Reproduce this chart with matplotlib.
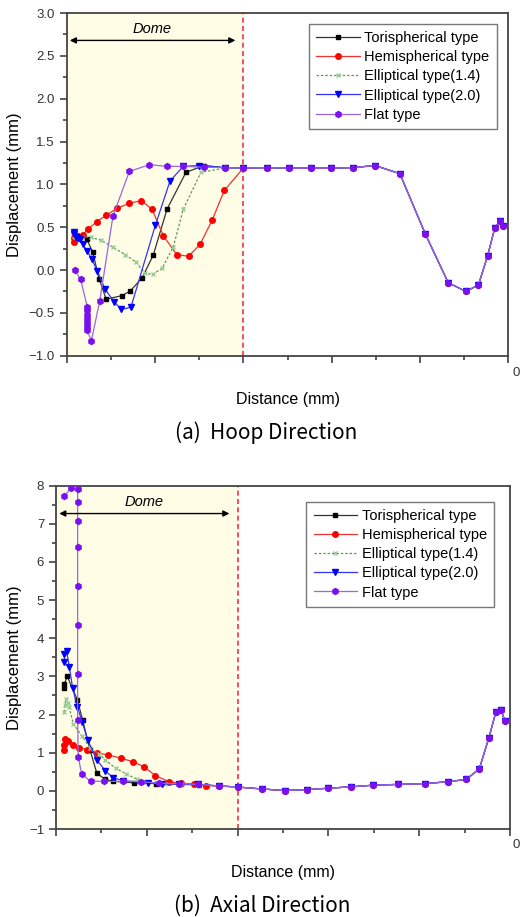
import numpy as np
import matplotlib
matplotlib.use("Agg")
import matplotlib.pyplot as plt
from matplotlib.ticker import MultipleLocator

plt.rcParams['font.family'] = ['Liberation Sans', 'DejaVu Sans']

# ---------------- data ----------------
labels = ["Torispherical type", "Hemispherical type", "Elliptical type(1.4)",
          "Elliptical type(2.0)", "Flat type"]

# common part along the cylinder (x >= 200), all heads coincide here
tail_x = [200, 226.6, 251.7, 276.6, 299.3, 324.4, 349, 377.2, 406.2, 432,
          451.9, 466.2, 476.6, 484.6, 490.2, 494.5]
tail_hoop = [1.19, 1.195, 1.19, 1.19, 1.19, 1.195, 1.22, 1.125, 0.417, -0.148,
             -0.25, -0.175, 0.167, 0.487, 0.572, 0.514]
tail_axial = [0.10, 0.05, 0.008, 0.034, 0.068, 0.105, 0.148, 0.17, 0.19, 0.24,
              0.30, 0.58, 1.38, 2.08, 2.11, 1.83]

# (a) hoop direction, dome part
tori_hx = [8, 10, 14, 22.5, 29.4, 36.6, 44.7, 62.2, 72, 85.5, 98, 113.6, 135, 155.5, 179]
tori_hy = [0.42, 0.38, 0.37, 0.365, 0.21, -0.10, -0.34, -0.30, -0.245, -0.09, 0.175,
           0.71, 1.14, 1.22, 1.195]
hemi_hx = [8, 8.5, 13, 18, 24, 34, 45, 57, 71, 84.5, 96.6, 109.4, 124.6, 138, 151,
           164.6, 178.5]
hemi_hy = [0.33, 0.37, 0.40, 0.41, 0.475, 0.565, 0.64, 0.72, 0.78, 0.81, 0.71, 0.40,
           0.18, 0.16, 0.30, 0.58, 0.93]
ell14_hx = [8, 9.5, 12, 17, 27.9, 38.5, 52.4, 66.4, 78.5, 89, 97.4, 108, 120.7, 132,
            152, 179]
ell14_hy = [0.40, 0.38, 0.38, 0.39, 0.38, 0.35, 0.265, 0.18, 0.09, -0.04, -0.05, 0.02,
            0.27, 0.71, 1.14, 1.19]
ell20_hx = [8, 8.5, 10.5, 13, 15, 18, 23.3, 28.5, 34.6, 43.3, 53.5, 62, 72.7, 100.3,
            117, 132, 150, 179]
ell20_hy = [0.44, 0.42, 0.39, 0.37, 0.36, 0.30, 0.22, 0.125, -0.01, -0.22, -0.37,
            -0.46, -0.435, 0.52, 1.04, 1.21, 1.22, 1.195]
flat_hx = [9, 15.8, 23.3, 23.3, 23.3, 23.3, 23.3, 23.3, 23.3, 27.9, 37.4, 52.4, 70.9,
           93.5, 113, 132, 156, 179]
flat_hy = [0.0, -0.11, -0.43, -0.47, -0.52, -0.57, -0.62, -0.67, -0.70, -0.83, -0.36,
           0.63, 1.15, 1.23, 1.21, 1.21, 1.20, 1.195]

# (b) axial direction, dome part
tori_ax = [9.2, 9.2, 12.4, 23.4, 29.3, 37.4, 45, 54.2, 63, 86, 110, 138, 157, 179]
tori_ay = [2.69, 2.81, 3.0, 2.39, 1.86, 1.08, 0.46, 0.30, 0.25, 0.21, 0.19, 0.17,
           0.16, 0.13]
hemi_ax = [9.2, 9.2, 10.3, 13.5, 18.3, 25.3, 34.4, 44.7, 57.5, 71.1, 85, 97, 109.5,
           124.5, 138, 151.6, 164.8, 179]
hemi_ay = [1.06, 1.21, 1.36, 1.32, 1.21, 1.13, 1.08, 1.0, 0.94, 0.86, 0.76, 0.63, 0.40,
           0.24, 0.20, 0.17, 0.14, 0.13]
ell14_ax = [9.2, 10, 11, 13.5, 14.6, 19, 28.2, 37.4, 47.6, 54.2, 66, 76.9, 88.7, 100.7,
            120, 138, 157, 179]
ell14_ay = [2.06, 2.25, 2.41, 2.30, 2.19, 1.76, 1.45, 1.13, 0.97, 0.81, 0.59, 0.45,
            0.31, 0.23, 0.19, 0.17, 0.16, 0.13]
ell20_ax = [9.2, 9.2, 11.7, 14.6, 18.3, 23.4, 28.9, 34.8, 44.7, 54.2, 63, 73.3, 101.5,
            117, 136, 156, 179]
ell20_ay = [3.38, 3.6, 3.66, 3.26, 2.70, 2.21, 1.80, 1.34, 0.82, 0.53, 0.34, 0.27, 0.21,
            0.18, 0.18, 0.17, 0.13]
flat_ax = [9.2, 16.1, 23.8, 23.8, 23.8, 23.8, 23.8, 23.8, 23.8, 23.8, 24.5, 28.2, 38.1,
           53.1, 73.3, 94.1, 113.6, 136, 156, 179]
flat_ay = [7.73, 7.93, 7.91, 7.56, 7.08, 6.38, 5.37, 4.34, 3.06, 1.87, 0.90, 0.44, 0.25,
           0.25, 0.25, 0.24, 0.20, 0.19, 0.17, 0.13]

dome_end = 200

# styles: line colour, marker, marker colour, marker size
styles = [
    dict(color='#333333', marker='s', mfc='#000000', mec='#000000', ms=3.5),
    dict(color='#ee3333', marker='o', mfc='#ff0000', mec='#ff0000', ms=4),
    dict(color='#5a9a5a', marker='x', mfc='#99cc99', mec='#99cc99', ms=3, ls=(0, (2, 1.5))),
    dict(color='#3333ff', marker='v', mfc='#0000ff', mec='#0000ff', ms=4.5),
    dict(color='#9a66e6', marker='h', mfc='#7a10f0', mec='#7a10f0', ms=4.3),
]


def draw_panel(ax, series, tail_y, ylim, ymajor, yminor, ytick_fmt, dome_y, dome_text_y,
               leg_anchor):
    ax.set_facecolor('white')
    ax.axvspan(0, dome_end, color='#fffde6', zorder=0)
    ax.axvline(dome_end, color='#ee3355', ls=(0, (3, 2)), lw=1.2, zorder=1)
    for (xs, ys), lab, st in zip(series, labels, styles):
        st = dict(st)
        ls = st.pop('ls', '-')
        ax.plot(list(xs) + tail_x, list(ys) + tail_y, ls=ls, lw=0.9, label=lab, zorder=3, **st)
    ax.annotate('', xy=(3.5, dome_y), xytext=(191, dome_y),
                arrowprops=dict(arrowstyle='<|-|>', color='black', lw=1.0,
                                mutation_scale=9, shrinkA=0, shrinkB=0))
    ax.text(97, dome_text_y, 'Dome', style='italic', fontsize=10.5, ha='center', va='center')
    ax.set_xlim(0, 500)
    ax.set_ylim(*ylim)
    ax.xaxis.set_major_locator(MultipleLocator(100))
    ax.xaxis.set_minor_locator(MultipleLocator(50))
    ax.yaxis.set_major_locator(MultipleLocator(ymajor))
    ax.yaxis.set_minor_locator(MultipleLocator(yminor))
    ax.yaxis.set_major_formatter(ytick_fmt)
    ax.tick_params(which='both', direction='out', top=False, right=False, labelbottom=False,
                   labelsize=9.5, colors='#333333', width=1.1)
    ax.tick_params(which='major', length=5)
    ax.tick_params(which='minor', length=3)
    for sp in ax.spines.values():
        sp.set_color('#444444')
        sp.set_linewidth(1.3)
    ax.set_ylabel('Displacement (mm)', fontsize=12, labelpad=5)
    leg = ax.legend(loc='upper right', bbox_to_anchor=leg_anchor, fontsize=10.5, frameon=True,
                    fancybox=False, edgecolor='#555555', handlelength=3, numpoints=1,
                    labelspacing=0.35, borderpad=0.5, handletextpad=0.3, borderaxespad=0)
    leg.get_frame().set_linewidth(1.0)


fig = plt.figure(figsize=(5.21, 9.17), dpi=100)

ax1 = fig.add_axes([66.7 / 521, 561.3 / 917, 441.6 / 521, 342.7 / 917])
draw_panel(ax1,
           [(tori_hx, tori_hy), (hemi_hx, hemi_hy), (ell14_hx, ell14_hy),
            (ell20_hx, ell20_hy), (flat_hx, flat_hy)],
           tail_hoop, (-1.0, 3.0), 0.5, 0.25, '{x:.1f}', 2.68, 2.81, (0.974, 0.968))

ax2 = fig.add_axes([56 / 521, 88 / 917, 454 / 521, 343.3 / 917])
draw_panel(ax2,
           [(tori_ax, tori_ay), (hemi_ax, hemi_ay), (ell14_ax, ell14_ay),
            (ell20_ax, ell20_ay), (flat_ax, flat_ay)],
           tail_axial, (-1, 8), 1, 0.5, '{x:.0f}', 7.27, 7.56, (0.965, 0.953))

# x labels and captions
fig.text(287.5 / 521, 1 - 400 / 917, 'Distance (mm)', ha='center', va='center', fontsize=11.5)
fig.text(283 / 521, 1 - 873 / 917, 'Distance (mm)', ha='center', va='center', fontsize=11.5)
fig.text(266 / 521, 1 - 433 / 917, '(a)  Hoop Direction', ha='center', va='center',
         fontsize=15, family=['Noto Sans CJK KR', 'DejaVu Sans'], weight='light')
fig.text(262 / 521, 1 - 906 / 917, '(b)  Axial Direction', ha='center', va='center',
         fontsize=15, family=['Noto Sans CJK KR', 'DejaVu Sans'], weight='light')

# remnants of the last x tick label at the right edge
fig.text(520 / 521, 1 - 373 / 917, '0', ha='right', va='center', fontsize=9.5, color='#333333')
fig.text(520 / 521, 1 - 845 / 917, '0', ha='right', va='center', fontsize=9.5, color='#333333')

fig.savefig('out.png', dpi=100)
